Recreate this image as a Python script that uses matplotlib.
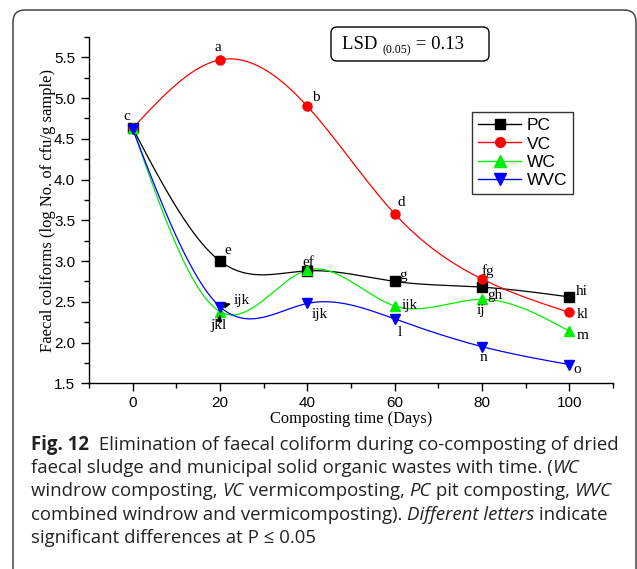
import numpy as np
import matplotlib
matplotlib.use("Agg")
import matplotlib.pyplot as plt
from matplotlib.path import Path
from matplotlib.patches import PathPatch, FancyBboxPatch

# ---------------- data ----------------
days = [0, 20, 40, 60, 80, 100]
series_names = ["PC", "VC", "WC", "WVC"]
pc = [4.63, 3.00, 2.88, 2.75, 2.68, 2.56]
vc = [4.63, 5.47, 4.90, 3.58, 2.78, 2.37]
wc = [4.63, 2.38, 2.89, 2.45, 2.53, 2.14]
wvc = [4.62, 2.44, 2.48, 2.29, 1.95, 1.73]
colors = ["#000000", "#ff0000", "#00ee00", "#0000ff"]
markers = ["s", "o", "^", "v"]

# letters: (series index, point index, text, dx px, dy px)
letters = [
    (0, 0, "c", -6, 12),
    (1, 1, "a", -2, 12),
    (1, 2, "b", 8, 9),
    (1, 3, "d", 7, 11),
    (1, 4, "fg", 6, 8),
    (1, 5, "kl", 13, -2),
    (0, 1, "e", 8, 11),
    (0, 2, "ef", 1, 8),
    (0, 3, "g", 8, 6),
    (0, 4, "gh", 13, -8),
    (0, 5, "hi", 12, 5),
    (2, 3, "ijk", 15, 0),
    (2, 4, "ij", -1, -11),
    (2, 5, "m", 13, -4),
    (3, 2, "ijk", 12, -11),
    (3, 3, "l", 5, -14),
    (3, 4, "n", 1, -11),
    (3, 5, "o", 8, -5),
]


def natural_spline(x, y, xs):
    x = np.asarray(x, float)
    y = np.asarray(y, float)
    n = len(x)
    h = np.diff(x)
    A = np.zeros((n, n))
    b = np.zeros(n)
    A[0, 0] = 1
    A[-1, -1] = 1
    for i in range(1, n - 1):
        A[i, i - 1] = h[i - 1]
        A[i, i] = 2 * (h[i - 1] + h[i])
        A[i, i + 1] = h[i]
        b[i] = 6 * ((y[i + 1] - y[i]) / h[i] - (y[i] - y[i - 1]) / h[i - 1])
    M = np.linalg.solve(A, b)
    out = np.empty_like(xs)
    for k, t in enumerate(xs):
        i = min(max(np.searchsorted(x, t) - 1, 0), n - 2)
        a = x[i + 1] - t
        c = t - x[i]
        out[k] = (M[i] * a ** 3 / (6 * h[i]) + M[i + 1] * c ** 3 / (6 * h[i])
                  + (y[i] / h[i] - M[i] * h[i] / 6) * a
                  + (y[i + 1] / h[i] - M[i + 1] * h[i] / 6) * c)
    return out


W, H = 637, 569
fig = plt.figure(figsize=(W / 100, H / 100), dpi=100)
renderer = fig.canvas.get_renderer()

# background overlay axes in pixel coordinates
bg = fig.add_axes([0, 0, 1, 1], zorder=0)
bg.set_xlim(0, W)
bg.set_ylim(H, 0)
bg.axis("off")
r = 12
verts = [(13, H + 5), (13, 10 + r), (13, 10), (13 + r, 10), (636 - r, 10), (636, 10), (636, 10 + r), (636, H + 5)]
codes = [Path.MOVETO, Path.LINETO, Path.CURVE3, Path.CURVE3, Path.LINETO, Path.CURVE3, Path.CURVE3, Path.LINETO]
bg.add_patch(PathPatch(Path(verts, codes), fill=False, edgecolor="#444444", lw=1.1))


def draw_segments(x, y, segs, **kw):
    for seg in segs:
        txt, props = seg[0], seg[1]
        dy = seg[2] if len(seg) > 2 else 0
        t = bg.text(x, y + dy, txt, **kw, **props)
        x += t.get_window_extent(renderer=renderer).width
    return x


# caption
cap_font = ["Open Sans", "DejaVu Sans"]
cap_size = 13.45
N = {}
B = {"fontweight": "bold"}
I = {"fontstyle": "italic"}
lines = [
    [("Fig. 12", B), ("  Elimination of faecal coliform during co-composting of dried", N)],
    [("faecal sludge and municipal solid organic wastes with time. (", N), ("WC", I)],
    [("windrow composting, ", N), ("VC", I), (" vermicomposting, ", N),
     ("PC", I), (" pit composting, ", N), ("WVC", I)],
    [("combined windrow and vermicomposting). ", N), ("Different letters", I), (" indicate", N)],
    [("significant differences at P \u2264 0.05", N)],
]
for li, segs in enumerate(lines):
    draw_segments(31, 445 + li * 23.2, segs, family=cap_font, fontsize=cap_size,
                  ha="left", va="center", color="#222222")

# LSD box
bg.add_patch(FancyBboxPatch((331, 27), 158, 34, boxstyle="round,pad=0,rounding_size=6",
                            fc="white", ec="black", lw=1.0, zorder=5))
lsd_segs = [("LSD ", {"fontsize": 13.5}), ("(0.05)", {"fontsize": 8.5}, 4), (" = 0.13", {"fontsize": 13.5})]
draw_segments(342, 49, lsd_segs, family="Liberation Serif", ha="left", va="baseline", zorder=6)

# main axes
ax = fig.add_axes([89 / W, 1 - 383.3 / H, (613 - 89) / W, (383.3 - 37) / H], zorder=1)
ax.patch.set_alpha(0)
ax.set_xlim(-10, 110)
ax.set_ylim(1.5, 5.75)
for s in ["top", "right"]:
    ax.spines[s].set_visible(False)
for s in ["left", "bottom"]:
    ax.spines[s].set_linewidth(1.0)

ax.set_xticks([0, 20, 40, 60, 80, 100])
ax.set_xticks([-10, 10, 30, 50, 70, 90, 110], minor=True)
ax.set_yticks([1.5, 2.0, 2.5, 3.0, 3.5, 4.0, 4.5, 5.0, 5.5])
ax.set_yticks([1.75, 2.25, 2.75, 3.25, 3.75, 4.25, 4.75, 5.25, 5.75], minor=True)
ax.tick_params(which="major", direction="out", length=6, width=1.0, labelsize=11, pad=4)
ax.tick_params(axis="x", which="major", pad=3)
ax.tick_params(which="minor", direction="out", length=3.5, width=1.0)
for lab in ax.get_xticklabels() + ax.get_yticklabels():
    lab.set_family("Liberation Sans")

ax.set_xlabel("Composting time (Days)", family="Liberation Serif", fontsize=11.8, labelpad=1)
ax.set_ylabel("Faecal coliforms (log No. of cfu/g sample)", family="Liberation Serif", fontsize=11.9, labelpad=-1.5)

xs = np.linspace(0, 100, 400)
data = [pc, vc, wc, wvc]
for name, ys, c, m in zip(series_names, data, colors, markers):
    ms = 7.5 if m in "^v" else 6.5
    ax.plot(xs, natural_spline(days, ys, xs), color=c, lw=0.9, zorder=2)
    ax.plot(days, ys, linestyle="none", marker=m, color=c, markersize=ms, zorder=3)
    ax.plot([], [], color=c, lw=1.0, marker=m, markersize=ms + 0.5, label=name)

leg = ax.legend(loc="upper left", bbox_to_anchor=((472 - 89) / 524, (383.3 - 112) / 346.3),
                borderaxespad=0, frameon=True, fancybox=False, edgecolor="black",
                prop={"family": "Liberation Sans", "size": 12.5}, handlelength=2.5,
                labelspacing=0.18, borderpad=0.35, handletextpad=0.3)
leg.get_frame().set_linewidth(1.0)

for si, pi, txt, dx, dy in letters:
    ax.annotate(txt, xy=(days[pi], data[si][pi]), xytext=(dx, dy), textcoords="offset pixels",
                ha="center", va="center", family="Liberation Serif", fontsize=11, zorder=4)

# arrowed labels at day 20
ax.annotate("jkl", xy=(days[1], wc[1]), xytext=(-1, -14), textcoords="offset pixels",
            ha="center", va="center", family="Liberation Serif", fontsize=11, zorder=4,
            arrowprops=dict(arrowstyle="-|>,head_length=0.35,head_width=0.15", color="black", lw=0.9,
                            shrinkA=5, shrinkB=2))
ax.annotate("ijk", xy=(days[1], wvc[1]), xytext=(22, 6), textcoords="offset pixels",
            ha="center", va="center", family="Liberation Serif", fontsize=11, zorder=4,
            arrowprops=dict(arrowstyle="<|-,head_length=0.35,head_width=0.15", color="black", lw=0.9,
                            shrinkA=9, shrinkB=5))

fig.savefig("out.png", dpi=100)
